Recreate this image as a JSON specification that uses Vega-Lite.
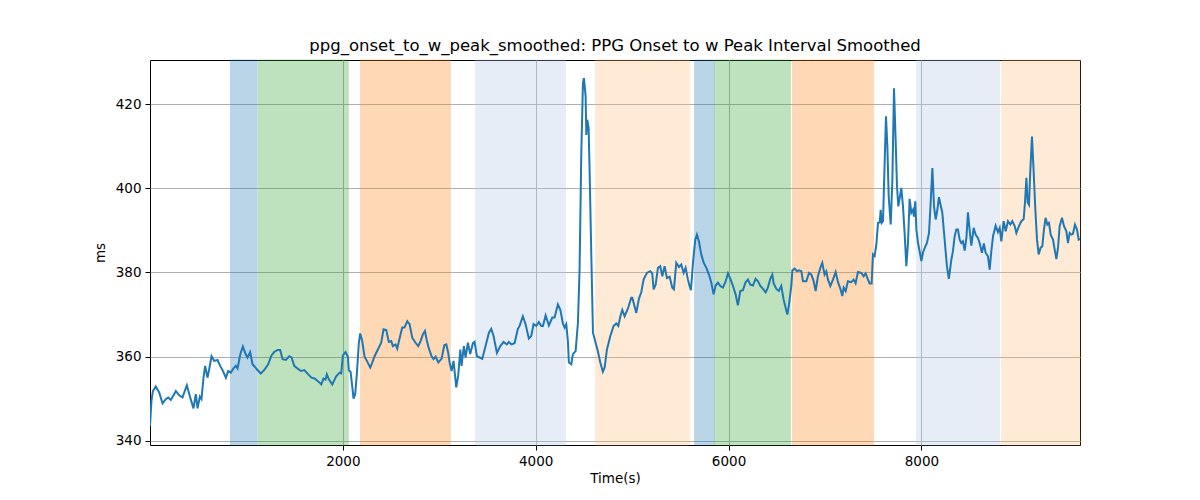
{
  "$schema": "https://vega.github.io/schema/vega-lite/v6.json",
  "width": 930,
  "height": 385,
  "autosize": {"type": "none"},
  "padding": {"left": 150, "top": 60, "right": 120, "bottom": 55},
  "background": "white",
  "config": {
    "view": {"stroke": "black", "strokeWidth": 1},
    "font": "DejaVu Sans",
    "axis": {
      "domain": false,
      "grid": true,
      "gridColor": "#b0b0b0",
      "gridWidth": 1,
      "tickColor": "black",
      "tickSize": 5,
      "tickWidth": 1,
      "labelPadding": 4,
      "labelFont": "DejaVu Sans",
      "labelFontSize": 13.5,
      "labelColor": "black",
      "titleFont": "DejaVu Sans",
      "titleFontSize": 13.5,
      "titleFontWeight": "normal",
      "titleColor": "black"
    }
  },
  "title": {
    "text": "ppg_onset_to_w_peak_smoothed: PPG Onset to w Peak Interval Smoothed",
    "font": "DejaVu Sans",
    "fontSize": 16.5,
    "fontWeight": "normal",
    "color": "black",
    "offset": 5
  },
  "datasets": {
    "bands": [
      {"start": 835, "end": 1112, "kind": "blue"},
      {"start": 1126, "end": 2056, "kind": "green"},
      {"start": 2184, "end": 3114, "kind": "orange"},
      {"start": 3377, "end": 4310, "kind": "lightblue"},
      {"start": 4621, "end": 5597, "kind": "lightorange"},
      {"start": 5648, "end": 5849, "kind": "blue"},
      {"start": 5853, "end": 6641, "kind": "green"},
      {"start": 6662, "end": 7505, "kind": "orange"},
      {"start": 7951, "end": 8812, "kind": "lightblue"},
      {"start": 8833, "end": 9645, "kind": "lightorange"}
    ],
    "series": [
      {"t":0,"v":343.5},{"t":15,"v":349.5},{"t":30,"v":351.8},{"t":60,"v":352.9},{"t":95,"v":351.5},{"t":130,"v":348.9},{"t":164,"v":349.9},{"t":189,"v":350.3},{"t":216,"v":349.7},{"t":268,"v":351.8},{"t":303,"v":350.8},{"t":337,"v":350.3},{"t":382,"v":353.2},{"t":417,"v":350.3},{"t":451,"v":347.7},{"t":475,"v":351.1},{"t":493,"v":347.7},{"t":517,"v":350.5},{"t":534,"v":349.9},{"t":555,"v":355.0},{"t":572,"v":357.8},{"t":596,"v":355.0},{"t":614,"v":357.0},{"t":638,"v":360.1},{"t":666,"v":359.0},{"t":700,"v":359.2},{"t":728,"v":357.8},{"t":752,"v":356.8},{"t":787,"v":355.0},{"t":811,"v":356.6},{"t":838,"v":356.2},{"t":866,"v":357.2},{"t":890,"v":357.8},{"t":908,"v":357.2},{"t":936,"v":360.5},{"t":963,"v":362.4},{"t":994,"v":360.5},{"t":1011,"v":359.8},{"t":1039,"v":361.1},{"t":1063,"v":358.2},{"t":1087,"v":357.6},{"t":1108,"v":357.0},{"t":1149,"v":356.0},{"t":1184,"v":356.8},{"t":1226,"v":358.2},{"t":1260,"v":360.3},{"t":1288,"v":361.1},{"t":1323,"v":361.6},{"t":1350,"v":361.6},{"t":1375,"v":359.4},{"t":1409,"v":359.2},{"t":1444,"v":360.1},{"t":1468,"v":359.8},{"t":1496,"v":357.8},{"t":1530,"v":357.2},{"t":1565,"v":356.6},{"t":1600,"v":356.8},{"t":1641,"v":355.8},
      {"t":1675,"v":355.0},{"t":1706,"v":354.8},{"t":1751,"v":354.0},{"t":1776,"v":353.4},{"t":1799,"v":354.8},{"t":1820,"v":354.5},{"t":1834,"v":355.8},{"t":1855,"v":354.6},{"t":1890,"v":353.4},{"t":1931,"v":355.3},{"t":1966,"v":356.2},{"t":1983,"v":356.0},{"t":2000,"v":360.3},{"t":2028,"v":361.1},{"t":2052,"v":360.0},{"t":2062,"v":356.8},{"t":2080,"v":356.4},{"t":2097,"v":353.0},{"t":2111,"v":350.0},{"t":2128,"v":351.1},{"t":2145,"v":355.8},{"t":2166,"v":363.3},{"t":2180,"v":365.5},{"t":2201,"v":363.7},{"t":2225,"v":360.0},{"t":2249,"v":359.0},{"t":2284,"v":357.4},{"t":2305,"v":358.6},{"t":2329,"v":360.1},{"t":2363,"v":361.7},{"t":2398,"v":363.3},{"t":2422,"v":366.5},{"t":2450,"v":366.3},{"t":2477,"v":363.5},{"t":2502,"v":363.7},{"t":2519,"v":362.5},{"t":2547,"v":362.9},{"t":2564,"v":361.9},{"t":2588,"v":364.3},{"t":2616,"v":366.9},{"t":2640,"v":366.9},{"t":2668,"v":368.4},{"t":2692,"v":367.7},{"t":2720,"v":364.5},{"t":2754,"v":363.3},{"t":2782,"v":362.5},{"t":2806,"v":363.7},{"t":2830,"v":365.3},{"t":2851,"v":366.1},{"t":2872,"v":363.7},{"t":2893,"v":361.9},{"t":2920,"v":360.1},{"t":2941,"v":359.4},{"t":2962,"v":360.0},{"t":2990,"v":358.6},{"t":3024,"v":359.5},{"t":3052,"v":362.7},{"t":3073,"v":362.9},{"t":3093,"v":360.9},{"t":3107,"v":358.6},{"t":3128,"v":356.6},{"t":3148,"v":359.0},{"t":3176,"v":352.7},{"t":3197,"v":355.6},{"t":3218,"v":361.7},{"t":3231,"v":357.8},{"t":3255,"v":362.5},{"t":3273,"v":359.8},{"t":3297,"v":363.3},{"t":3321,"v":360.6},
      {"t":3349,"v":363.2},{"t":3366,"v":363.5},{"t":3390,"v":360.1},{"t":3446,"v":359.5},{"t":3480,"v":362.5},{"t":3515,"v":365.7},{"t":3539,"v":366.6},{"t":3563,"v":364.9},{"t":3598,"v":360.9},{"t":3633,"v":362.5},{"t":3667,"v":363.5},{"t":3701,"v":362.9},{"t":3722,"v":363.5},{"t":3747,"v":362.9},{"t":3781,"v":363.2},{"t":3815,"v":366.6},{"t":3833,"v":367.3},{"t":3867,"v":369.6},{"t":3895,"v":367.7},{"t":3929,"v":364.3},{"t":3954,"v":364.9},{"t":3978,"v":367.7},{"t":4006,"v":367.3},{"t":4033,"v":368.2},{"t":4058,"v":367.3},{"t":4075,"v":367.3},{"t":4103,"v":369.8},{"t":4137,"v":367.4},{"t":4172,"v":369.3},{"t":4196,"v":369.3},{"t":4230,"v":372.4},{"t":4255,"v":371.2},{"t":4282,"v":367.9},{"t":4300,"v":366.9},{"t":4317,"v":367.7},{"t":4334,"v":363.7},{"t":4344,"v":358.6},{"t":4369,"v":358.2},{"t":4386,"v":360.6},{"t":4414,"v":361.3},{"t":4438,"v":368.0},{"t":4455,"v":380.7},{"t":4473,"v":408.4},{"t":4490,"v":425.0},{"t":4500,"v":426.2},{"t":4518,"v":421.8},{"t":4525,"v":412.7},{"t":4535,"v":416.3},{"t":4549,"v":414.3},{"t":4559,"v":404.4},{"t":4577,"v":383.9},{"t":4594,"v":365.7},{"t":4621,"v":363.3},{"t":4645,"v":361.3},{"t":4670,"v":358.6},{"t":4697,"v":356.4},{"t":4715,"v":357.4},{"t":4739,"v":361.7},{"t":4774,"v":364.9},{"t":4808,"v":367.3},{"t":4836,"v":367.9},{"t":4857,"v":367.3},{"t":4878,"v":369.6},{"t":4898,"v":371.1},{"t":4922,"v":369.6},{"t":4956,"v":371.4},{"t":4991,"v":374.0},
      {"t":5002,"v":374.0},{"t":5026,"v":371.9},{"t":5043,"v":370.4},{"t":5071,"v":373.8},{"t":5095,"v":375.3},{"t":5119,"v":378.3},{"t":5153,"v":379.9},{"t":5188,"v":380.3},{"t":5209,"v":379.8},{"t":5223,"v":376.0},{"t":5244,"v":377.1},{"t":5268,"v":381.1},{"t":5292,"v":381.5},{"t":5313,"v":379.1},{"t":5337,"v":381.5},{"t":5361,"v":378.7},{"t":5389,"v":379.0},{"t":5417,"v":376.4},{"t":5434,"v":376.0},{"t":5458,"v":382.3},{"t":5486,"v":381.3},{"t":5510,"v":381.9},{"t":5534,"v":379.9},{"t":5555,"v":381.1},{"t":5579,"v":378.3},{"t":5596,"v":376.8},{"t":5610,"v":375.8},{"t":5631,"v":382.3},{"t":5655,"v":387.8},{"t":5672,"v":389.0},{"t":5693,"v":387.4},{"t":5717,"v":384.3},{"t":5741,"v":382.4},{"t":5770,"v":381.1},{"t":5797,"v":379.5},{"t":5821,"v":377.6},{"t":5845,"v":374.8},{"t":5866,"v":376.9},{"t":5890,"v":377.6},{"t":5915,"v":376.8},{"t":5942,"v":376.4},{"t":5970,"v":377.9},{"t":5994,"v":379.8},{"t":6019,"v":378.5},{"t":6046,"v":376.8},{"t":6073,"v":374.8},{"t":6097,"v":372.2},{"t":6122,"v":375.6},{"t":6149,"v":375.8},{"t":6177,"v":377.7},{"t":6201,"v":378.3},{"t":6226,"v":377.1},{"t":6253,"v":376.9},{"t":6281,"v":378.5},{"t":6305,"v":377.9},{"t":6330,"v":376.8},{"t":6357,"v":376.1},{"t":6385,"v":375.3},{"t":6408,"v":376.4},{"t":6433,"v":378.5},{"t":6454,"v":379.5},{"t":6468,"v":377.4},{"t":6496,"v":376.1},{"t":6522,"v":375.6},{"t":6547,"v":376.8},{"t":6571,"v":373.6},{"t":6592,"v":371.6},{"t":6610,"v":370.0},{"t":6627,"v":372.4},{"t":6651,"v":376.8},
      {"t":6662,"v":380.5},{"t":6686,"v":380.9},{"t":6710,"v":380.3},{"t":6730,"v":380.5},{"t":6755,"v":380.3},{"t":6772,"v":377.9},{"t":6807,"v":377.9},{"t":6834,"v":379.9},{"t":6859,"v":379.5},{"t":6883,"v":377.9},{"t":6903,"v":375.6},{"t":6927,"v":379.1},{"t":6952,"v":381.1},{"t":6972,"v":382.3},{"t":6996,"v":379.5},{"t":7014,"v":380.3},{"t":7031,"v":378.3},{"t":7056,"v":376.8},{"t":7083,"v":378.3},{"t":7111,"v":380.1},{"t":7135,"v":377.7},{"t":7160,"v":376.1},{"t":7180,"v":374.4},{"t":7194,"v":376.4},{"t":7215,"v":375.6},{"t":7238,"v":377.9},{"t":7273,"v":377.7},{"t":7297,"v":378.3},{"t":7318,"v":377.4},{"t":7342,"v":380.1},{"t":7377,"v":379.9},{"t":7401,"v":379.1},{"t":7422,"v":379.8},{"t":7446,"v":378.3},{"t":7463,"v":377.4},{"t":7484,"v":377.4},{"t":7498,"v":384.3},{"t":7515,"v":383.9},{"t":7533,"v":386.6},{"t":7550,"v":391.8},{"t":7568,"v":391.9},{"t":7578,"v":394.9},{"t":7589,"v":391.8},{"t":7602,"v":392.2},{"t":7619,"v":406.0},{"t":7633,"v":417.1},{"t":7647,"v":410.0},{"t":7661,"v":398.1},{"t":7682,"v":391.4},{"t":7699,"v":402.0},{"t":7716,"v":423.8},{"t":7733,"v":411.5},{"t":7747,"v":400.5},{"t":7761,"v":395.7},{"t":7775,"v":397.7},{"t":7792,"v":400.1},{"t":7809,"v":395.7},{"t":7826,"v":389.4},{"t":7844,"v":381.5},{"t":7861,"v":387.0},{"t":7878,"v":397.5},{"t":7896,"v":394.2},{"t":7913,"v":394.9},{"t":7923,"v":393.3},{"t":7937,"v":396.9},{"t":7948,"v":390.2},{"t":7965,"v":387.0},{"t":7982,"v":385.0},{"t":8000,"v":382.7},{"t":8016,"v":384.7},{"t":8041,"v":386.2},{"t":8058,"v":387.0},{"t":8079,"v":389.4},{"t":8096,"v":396.5},{"t":8114,"v":404.8},{"t":8131,"v":395.7},{"t":8148,"v":392.6},{"t":8166,"v":394.9},{"t":8182,"v":397.9},
      {"t":8217,"v":394.2},{"t":8241,"v":387.8},{"t":8265,"v":381.5},{"t":8285,"v":378.5},{"t":8311,"v":383.1},{"t":8327,"v":385.0},{"t":8345,"v":388.6},{"t":8362,"v":390.2},{"t":8379,"v":390.2},{"t":8397,"v":387.8},{"t":8414,"v":387.0},{"t":8431,"v":387.4},{"t":8449,"v":385.2},{"t":8467,"v":388.2},{"t":8483,"v":394.3},{"t":8500,"v":390.2},{"t":8518,"v":386.4},{"t":8542,"v":390.6},{"t":8562,"v":389.0},{"t":8586,"v":388.2},{"t":8604,"v":387.0},{"t":8628,"v":384.7},{"t":8648,"v":386.9},{"t":8666,"v":384.7},{"t":8690,"v":383.9},{"t":8708,"v":380.7},{"t":8725,"v":385.0},{"t":8743,"v":388.6},{"t":8770,"v":391.1},{"t":8794,"v":389.6},{"t":8812,"v":390.6},{"t":8829,"v":387.4},{"t":8853,"v":392.2},{"t":8874,"v":389.8},{"t":8898,"v":392.2},{"t":8923,"v":391.4},{"t":8943,"v":392.2},{"t":8967,"v":391.1},{"t":8985,"v":389.4},{"t":9012,"v":391.0},{"t":9037,"v":392.2},{"t":9061,"v":392.7},{"t":9074,"v":396.5},{"t":9089,"v":402.5},{"t":9102,"v":396.7},{"t":9116,"v":396.1},{"t":9130,"v":404.4},{"t":9147,"v":412.3},{"t":9165,"v":403.6},{"t":9182,"v":394.9},{"t":9199,"v":387.8},{"t":9216,"v":384.3},{"t":9237,"v":385.9},{"t":9254,"v":386.2},{"t":9271,"v":390.2},{"t":9288,"v":393.0},{"t":9306,"v":391.4},{"t":9323,"v":391.8},{"t":9341,"v":389.0},{"t":9365,"v":387.8},{"t":9382,"v":385.5},{"t":9400,"v":383.2},{"t":9417,"v":385.9},{"t":9434,"v":391.0},{"t":9458,"v":393.0},{"t":9479,"v":391.0},{"t":9504,"v":389.8},{"t":9520,"v":387.0},{"t":9538,"v":389.4},{"t":9556,"v":389.0},{"t":9572,"v":389.2},{"t":9593,"v":391.4},{"t":9614,"v":390.2},{"t":9631,"v":387.8},{"t":9645,"v":388.0}
    ]
  },
  "layer": [
    {
      "data": {"name": "bands"},
      "mark": {"type": "rect", "opacity": 0.3, "strokeWidth": 1},
      "encoding": {
        "x": {
          "field": "start", "type": "quantitative",
          "scale": {"domain": [0, 9645], "nice": false, "zero": false},
          "axis": {"title": "Time(s)", "values": [2000, 4000, 6000, 8000], "format": "d", "titlePadding": 4}
        },
        "x2": {"field": "end"},
        "color": {
          "field": "kind", "type": "nominal",
          "scale": {"domain": ["blue", "green", "orange", "lightblue", "lightorange"], "range": ["#1f77b4", "#2ca02c", "#ff7f0e", "#aec7e8", "#ffbb78"]},
          "legend": null
        },
        "stroke": {
          "field": "kind", "type": "nominal",
          "scale": {"domain": ["blue", "green", "orange", "lightblue", "lightorange"], "range": ["#1f77b4", "#2ca02c", "#ff7f0e", "#aec7e8", "#ffbb78"]},
          "legend": null
        }
      }
    },
    {
      "data": {"name": "series"},
      "mark": {"type": "line", "color": "#1f77b4", "strokeWidth": 2, "clip": true},
      "encoding": {
        "x": {"field": "t", "type": "quantitative", "title": "Time(s)"},
        "y": {
          "field": "v", "type": "quantitative",
          "scale": {"domain": [339, 430.5], "nice": false, "zero": false},
          "axis": {"title": "ms", "values": [340, 360, 380, 400, 420], "format": "d", "titlePadding": 8}
        }
      }
    }
  ]
}
